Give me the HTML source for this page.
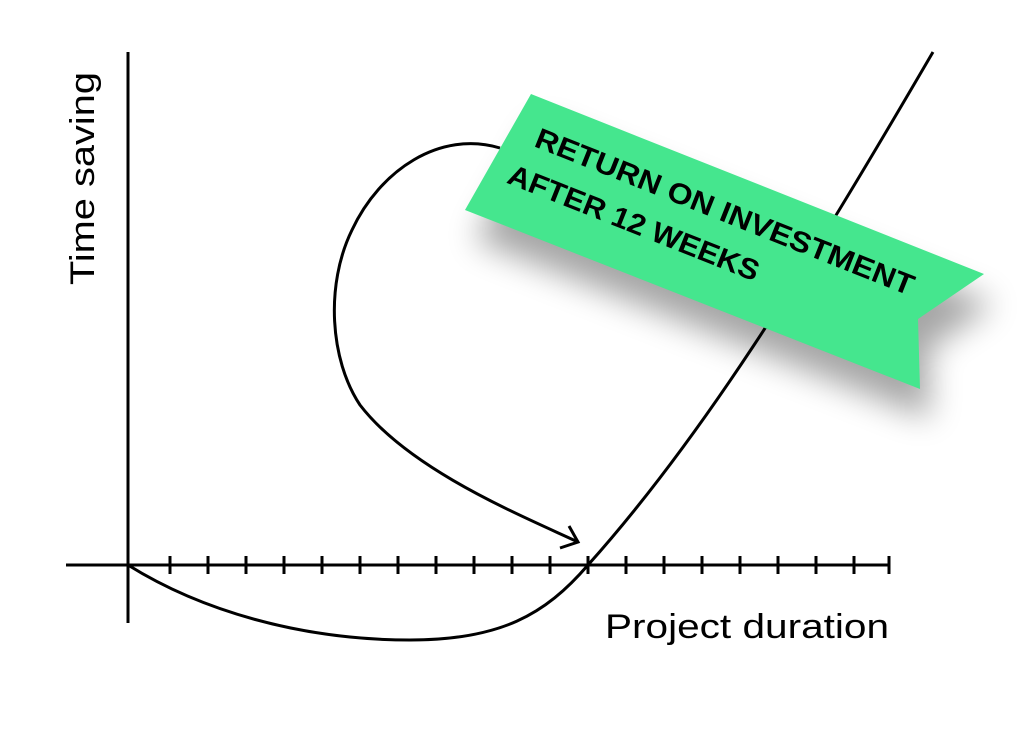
<!DOCTYPE html>
<html><head><meta charset="utf-8"><style>
html,body{margin:0;padding:0;background:#fff;}
svg{display:block;}
text{font-family:"Liberation Sans",sans-serif;}
</style></head><body>
<svg width="1024" height="731" viewBox="0 0 1024 731" xmlns="http://www.w3.org/2000/svg">
<defs>
<filter id="sh" x="-20%" y="-20%" width="150%" height="180%">
<feGaussianBlur stdDeviation="16"/>
</filter>
</defs>
<g fill="none" stroke="#000" stroke-width="3" stroke-linecap="butt">
<line x1="128" y1="52" x2="128" y2="623"/>
<line x1="66" y1="565" x2="890" y2="565"/>
<path d="M170 556V574M208 556V574M246 556V574M284 556V574M322 556V574M360 556V574M398 556V574M436 556V574M474 556V574M512 556V574M550 556V574M588 556V574M626 556V574M664 556V574M702 556V574M740 556V574M778 556V574M816 556V574M854 556V574M889 556V574"/>
<path d="M128 565 C200 610 300 640 410 640 C500 640 545 615 588 565 C700 440 800 280 933 52"/>
<path d="M500 148 C440 130 380 170 352 230 C325 285 330 360 360 405 C410 470 520 515 578 542"/>
<path d="M569 526 L578 542 L560 548"/>
</g>
<polygon points="531,94 984,274 918,319 920,389 465,210" fill="#000" opacity="0.35" filter="url(#sh)" transform="translate(10,30)"/>
<polygon points="531,94 984,274 918,319 920,389 465,210" fill="#45e68e"/>
<g transform="translate(533,146) rotate(21.7)">
<text x="0" y="0" font-size="29" font-weight="bold" fill="#000" textLength="405" lengthAdjust="spacingAndGlyphs">RETURN ON INVESTMENT</text>
<text x="-12" y="44" font-size="29" font-weight="bold" fill="#000" textLength="268" lengthAdjust="spacingAndGlyphs">AFTER 12 WEEKS</text>
</g>
<text x="605" y="638" font-size="34" fill="#000" textLength="284" lengthAdjust="spacingAndGlyphs">Project duration</text>
<text transform="translate(94,285) rotate(-90)" font-size="34" fill="#000" textLength="213" lengthAdjust="spacingAndGlyphs">Time saving</text>
</svg>
</body></html>
